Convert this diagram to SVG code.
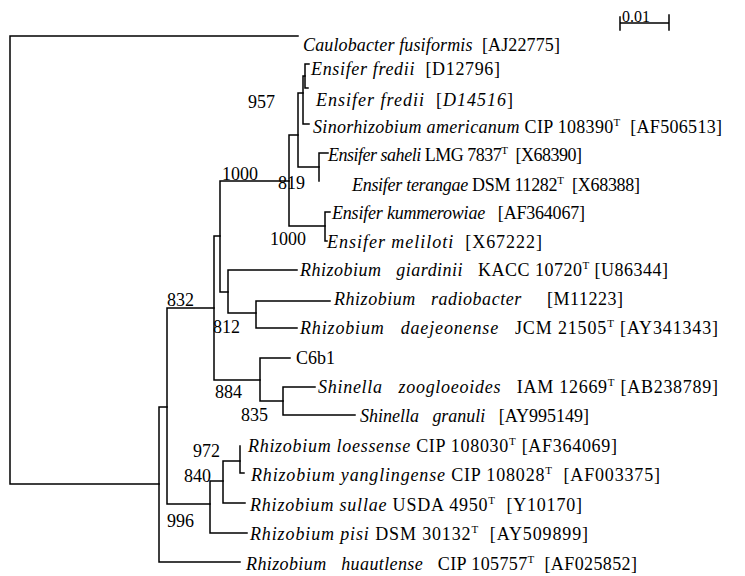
<svg xmlns="http://www.w3.org/2000/svg" width="745" height="576" viewBox="0 0 745 576">
<style>
text{font-family:"Liberation Serif","Times New Roman",serif;font-size:18px;fill:#000;white-space:pre}
.i{font-style:italic}
.sup{font-size:11px}
.br{fill:none;stroke:#000;stroke-width:1.5;stroke-linecap:square}
</style>
<rect width="745" height="576" fill="#fff"/>
<g id="connectors" class="br">
<path d="M298,36H10V484H159"/>
<path d="M159,407H167M159,407V562H240"/>
<path d="M214,308H167V504H210"/>
<path d="M214,236V380H260M214,236H220"/>
<path d="M289,181H220V292H228"/>
<path d="M298,135H289V226H325"/>
<path d="M303,93H298V167H319"/>
<path d="M309,124H303V76H305"/>
<path d="M309,64H305V88H308"/>
<path d="M328,153H319V181"/>
<path d="M330,212H325V241H327"/>
<path d="M297,270H228V313H256"/>
<path d="M330,301H256V328H297"/>
<path d="M290,358H260V401H283"/>
<path d="M315,387H283V415H355"/>
<path d="M223,481H210V533H247"/>
<path d="M240,461H223V503H245"/>
<path d="M240,446V473H244"/>
<path d="M620,23H669M620,17V30M669,15V30"/>
</g>
<g id="scale"><text x="622" y="22" style="font-size:16px">0.01</text></g>
<g id="bootstrap">
<text x="248" y="108">957</text>
<text x="222" y="180">1000</text>
<text x="278" y="189">819</text>
<text x="270" y="245">1000</text>
<text x="167" y="306">832</text>
<text x="213" y="333">812</text>
<text x="215" y="398">884</text>
<text x="241" y="421">835</text>
<text x="193" y="457">972</text>
<text x="184" y="482">840</text>
<text x="167" y="527">996</text>
</g>
<g id="t1"><text x="303" y="51" textLength="257" lengthAdjust="spacing"><tspan class="i">Caulobacter fusiformis</tspan>  [AJ22775]</text></g>
<g id="t2"><text x="311" y="75" textLength="189" lengthAdjust="spacing"><tspan class="i">Ensifer fredii</tspan>  [D12796]</text></g>
<g id="t3"><text x="316" y="106" textLength="197" lengthAdjust="spacing"><tspan class="i">Ensifer fredii</tspan>  [<tspan class="i">D14516</tspan>]</text></g>
<g id="t4"><text x="313" y="133" textLength="409" lengthAdjust="spacing"><tspan class="i">Sinorhizobium americanum</tspan> CIP 108390<tspan class="sup" dy="-7">T</tspan><tspan dy="7">  [AF506513]</tspan></text></g>
<g id="t5"><text x="328" y="161" textLength="254" lengthAdjust="spacing"><tspan class="i">Ensifer saheli</tspan> LMG 7837<tspan class="sup" dy="-7">T</tspan><tspan dy="7">  [X68390]</tspan></text></g>
<g id="t6"><text x="352" y="191" textLength="288" lengthAdjust="spacing"><tspan class="i">Ensifer terangae</tspan> DSM 11282<tspan class="sup" dy="-7">T</tspan><tspan dy="7">  [X68388]</tspan></text></g>
<g id="t7"><text x="332" y="219" textLength="253" lengthAdjust="spacing"><tspan class="i">Ensifer kummerowiae</tspan>   [AF364067]</text></g>
<g id="t8"><text x="327" y="248" textLength="215" lengthAdjust="spacing"><tspan class="i">Ensifer meliloti</tspan>  [X67222]</text></g>
<g id="t9"><text x="300" y="276" textLength="368" lengthAdjust="spacing"><tspan class="i">Rhizobium   giardinii</tspan>   KACC 10720<tspan class="sup" dy="-7">T</tspan><tspan dy="7"> [U86344]</tspan></text></g>
<g id="t10"><text x="334" y="305" textLength="289" lengthAdjust="spacing"><tspan class="i">Rhizobium   radiobacter</tspan>     [M11223]</text></g>
<g id="t11"><text x="300" y="334" textLength="418" lengthAdjust="spacing"><tspan class="i">Rhizobium   daejeonense</tspan>   JCM 21505<tspan class="sup" dy="-7">T</tspan><tspan dy="7"> [AY341343]</tspan></text></g>
<g id="t12"><text x="296" y="364">C6b1</text></g>
<g id="t13"><text x="318" y="393" textLength="400" lengthAdjust="spacing"><tspan class="i">Shinella   zoogloeoides</tspan>   IAM 12669<tspan class="sup" dy="-7">T</tspan><tspan dy="7"> [AB238789]</tspan></text></g>
<g id="t14"><text x="360" y="422" textLength="229" lengthAdjust="spacing"><tspan class="i">Shinella   granuli</tspan>   [AY995149]</text></g>
<g id="t15"><text x="248" y="452" textLength="369" lengthAdjust="spacing"><tspan class="i">Rhizobium loessense</tspan> CIP 108030<tspan class="sup" dy="-7">T</tspan><tspan dy="7"> [AF364069]</tspan></text></g>
<g id="t16"><text x="251" y="481" textLength="409" lengthAdjust="spacing"><tspan class="i">Rhizobium yanglingense</tspan> CIP 108028<tspan class="sup" dy="-7">T</tspan><tspan dy="7">  [AF003375]</tspan></text></g>
<g id="t17"><text x="250" y="511" textLength="332" lengthAdjust="spacing"><tspan class="i">Rhizobium sullae</tspan> USDA 4950<tspan class="sup" dy="-7">T</tspan><tspan dy="7">  [Y10170]</tspan></text></g>
<g id="t18"><text x="250" y="540" textLength="338" lengthAdjust="spacing"><tspan class="i">Rhizobium pisi</tspan> DSM 30132<tspan class="sup" dy="-7">T</tspan><tspan dy="7">  [AY509899]</tspan></text></g>
<g id="t19"><text x="246" y="570" textLength="391" lengthAdjust="spacing"><tspan class="i">Rhizobium   huautlense</tspan>   CIP 105757<tspan class="sup" dy="-7">T</tspan><tspan dy="7">  [AF025852]</tspan></text></g>
</svg>
